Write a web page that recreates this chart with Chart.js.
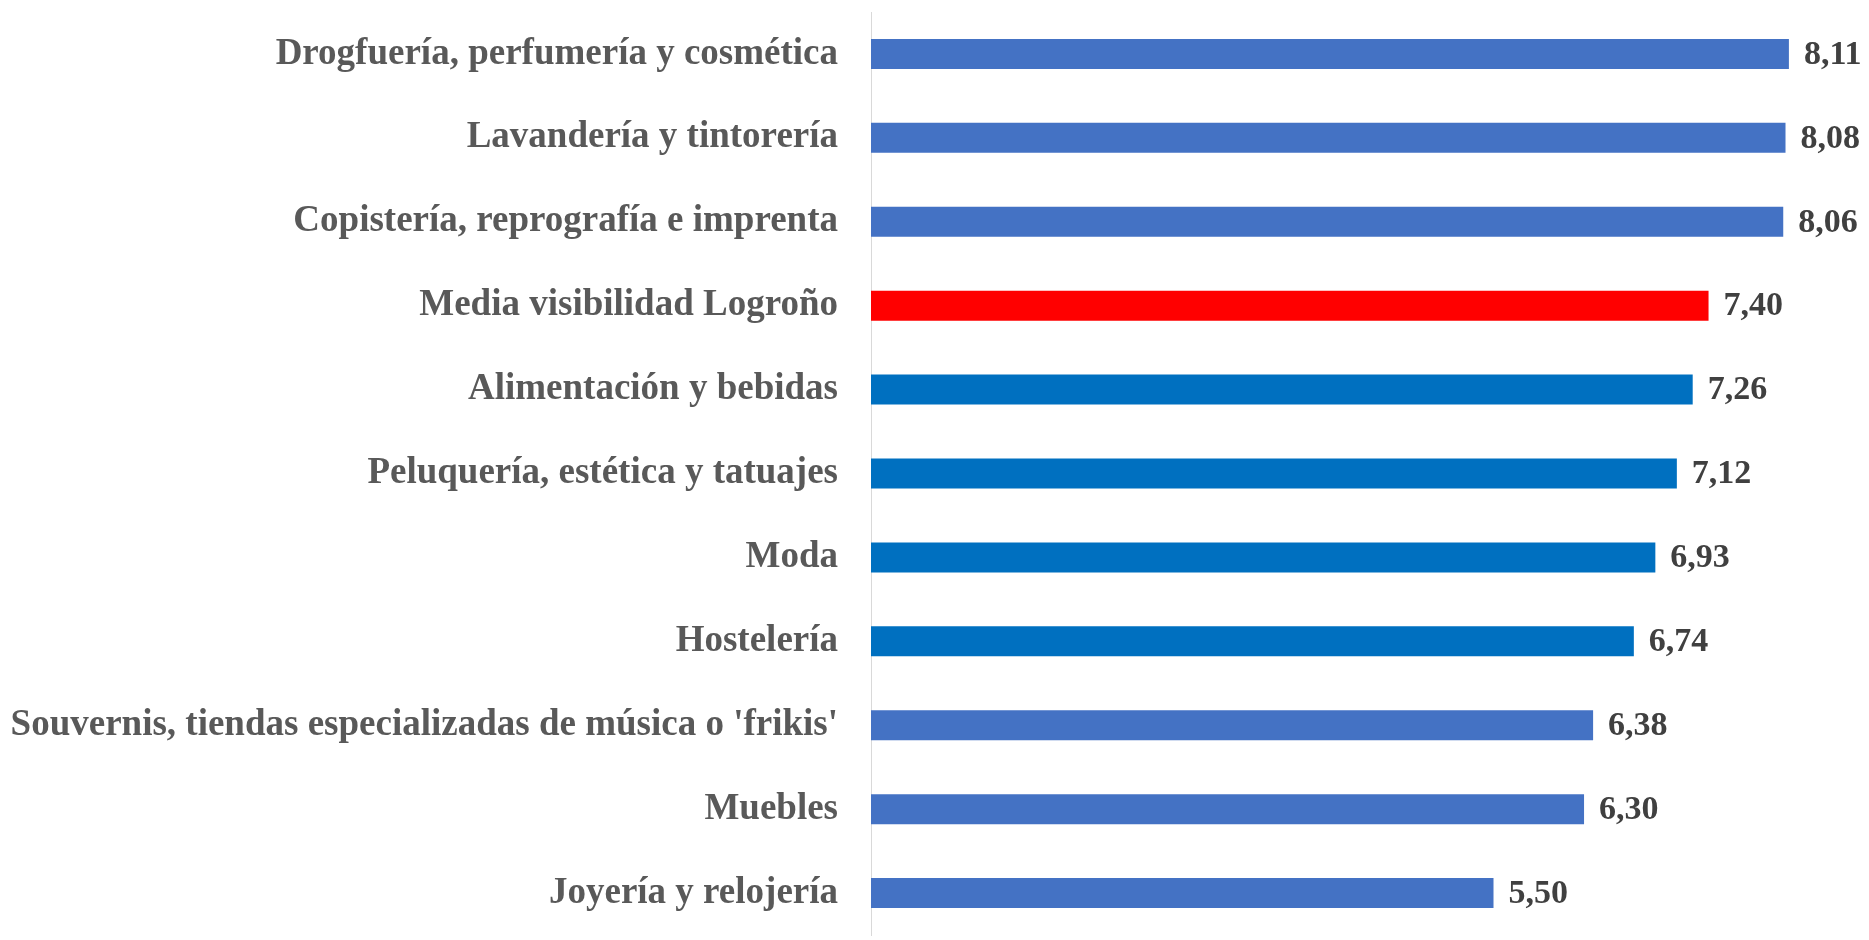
<!DOCTYPE html>
<html lang="es">
<head>
<meta charset="utf-8">
<title>Visibilidad por sector</title>
<script src="https://cdn.jsdelivr.net/npm/chart.js@4/dist/chart.umd.min.js"></script>
<style>
    html, body { margin: 0; padding: 0; background: #fff; overflow: hidden; }
    canvas { display: block; }
</style>
</head>
<body>
<canvas id="visChart" width="1869" height="940"></canvas>
<script>
// Sectores ordenados de mayor a menor visibilidad
const sectores = [
    'Drogfuería, perfumería y cosmética',
    'Lavandería y tintorería',
    'Copistería, reprografía e imprenta',
    'Media visibilidad Logroño',
    'Alimentación y bebidas',
    'Peluquería, estética y tatuajes',
    'Moda',
    'Hostelería',
    "Souvernis, tiendas especializadas de música o 'frikis'",
    'Muebles',
    'Joyería y relojería'
];
const visibilidad = [8.11, 8.08, 8.06, 7.40, 7.26, 7.12, 6.93, 6.74, 6.38, 6.30, 5.50];
const colores = [
    '#4472C4', '#4472C4', '#4472C4', '#FF0000',
    '#0070C0', '#0070C0', '#0070C0', '#0070C0',
    '#4472C4', '#4472C4', '#4472C4'
];

const FONT = "'Liberation Serif', 'DejaVu Serif', serif";

// etiquetas de valor a la derecha de cada barra, con coma decimal
const valueLabels = {
    id: 'valueLabels',
    afterDatasetsDraw(chart) {
        const ctx = chart.ctx;
        const meta = chart.getDatasetMeta(0);
        ctx.save();
        ctx.font = 'bold 34px ' + FONT;
        ctx.fillStyle = '#404040';
        ctx.textAlign = 'left';
        ctx.textBaseline = 'middle';
        meta.data.forEach((bar, i) => {
            const txt = visibilidad[i].toFixed(2).replace('.', ',');
            ctx.fillText(txt, bar.x + 15, bar.y + 1);
        });
        ctx.restore();
    }
};

new Chart(document.getElementById('visChart').getContext('2d'), {
    type: 'bar',
    data: {
        labels: sectores,
        datasets: [{
            data: visibilidad,
            backgroundColor: colores,
            borderWidth: 0,
            barPercentage: 1,
            categoryPercentage: 0.3575
        }]
    },
    options: {
        indexAxis: 'y',
        responsive: false,
        animation: false,
        layout: { padding: { top: 12, bottom: 5, right: 2, left: 0 } },
        plugins: {
            legend: { display: false },
            tooltip: { enabled: false }
        },
        scales: {
            x: {
                display: false,
                min: 0,
                max: 8.8
            },
            y: {
                grid: { display: false, drawTicks: false },
                border: { display: true, color: '#D9D9D9', width: 1 },
                ticks: {
                    color: '#595959',
                    padding: 33,
                    font: { family: FONT, size: 37, weight: 'bold' }
                },
                afterFit(scale) {
                    // ancho fijo del eje y sin margen extra arriba/abajo
                    scale.width = 871;
                    scale.paddingTop = 0;
                    scale.paddingBottom = 0;
                }
            }
        }
    },
    plugins: [valueLabels]
});
</script>
</body>
</html>
